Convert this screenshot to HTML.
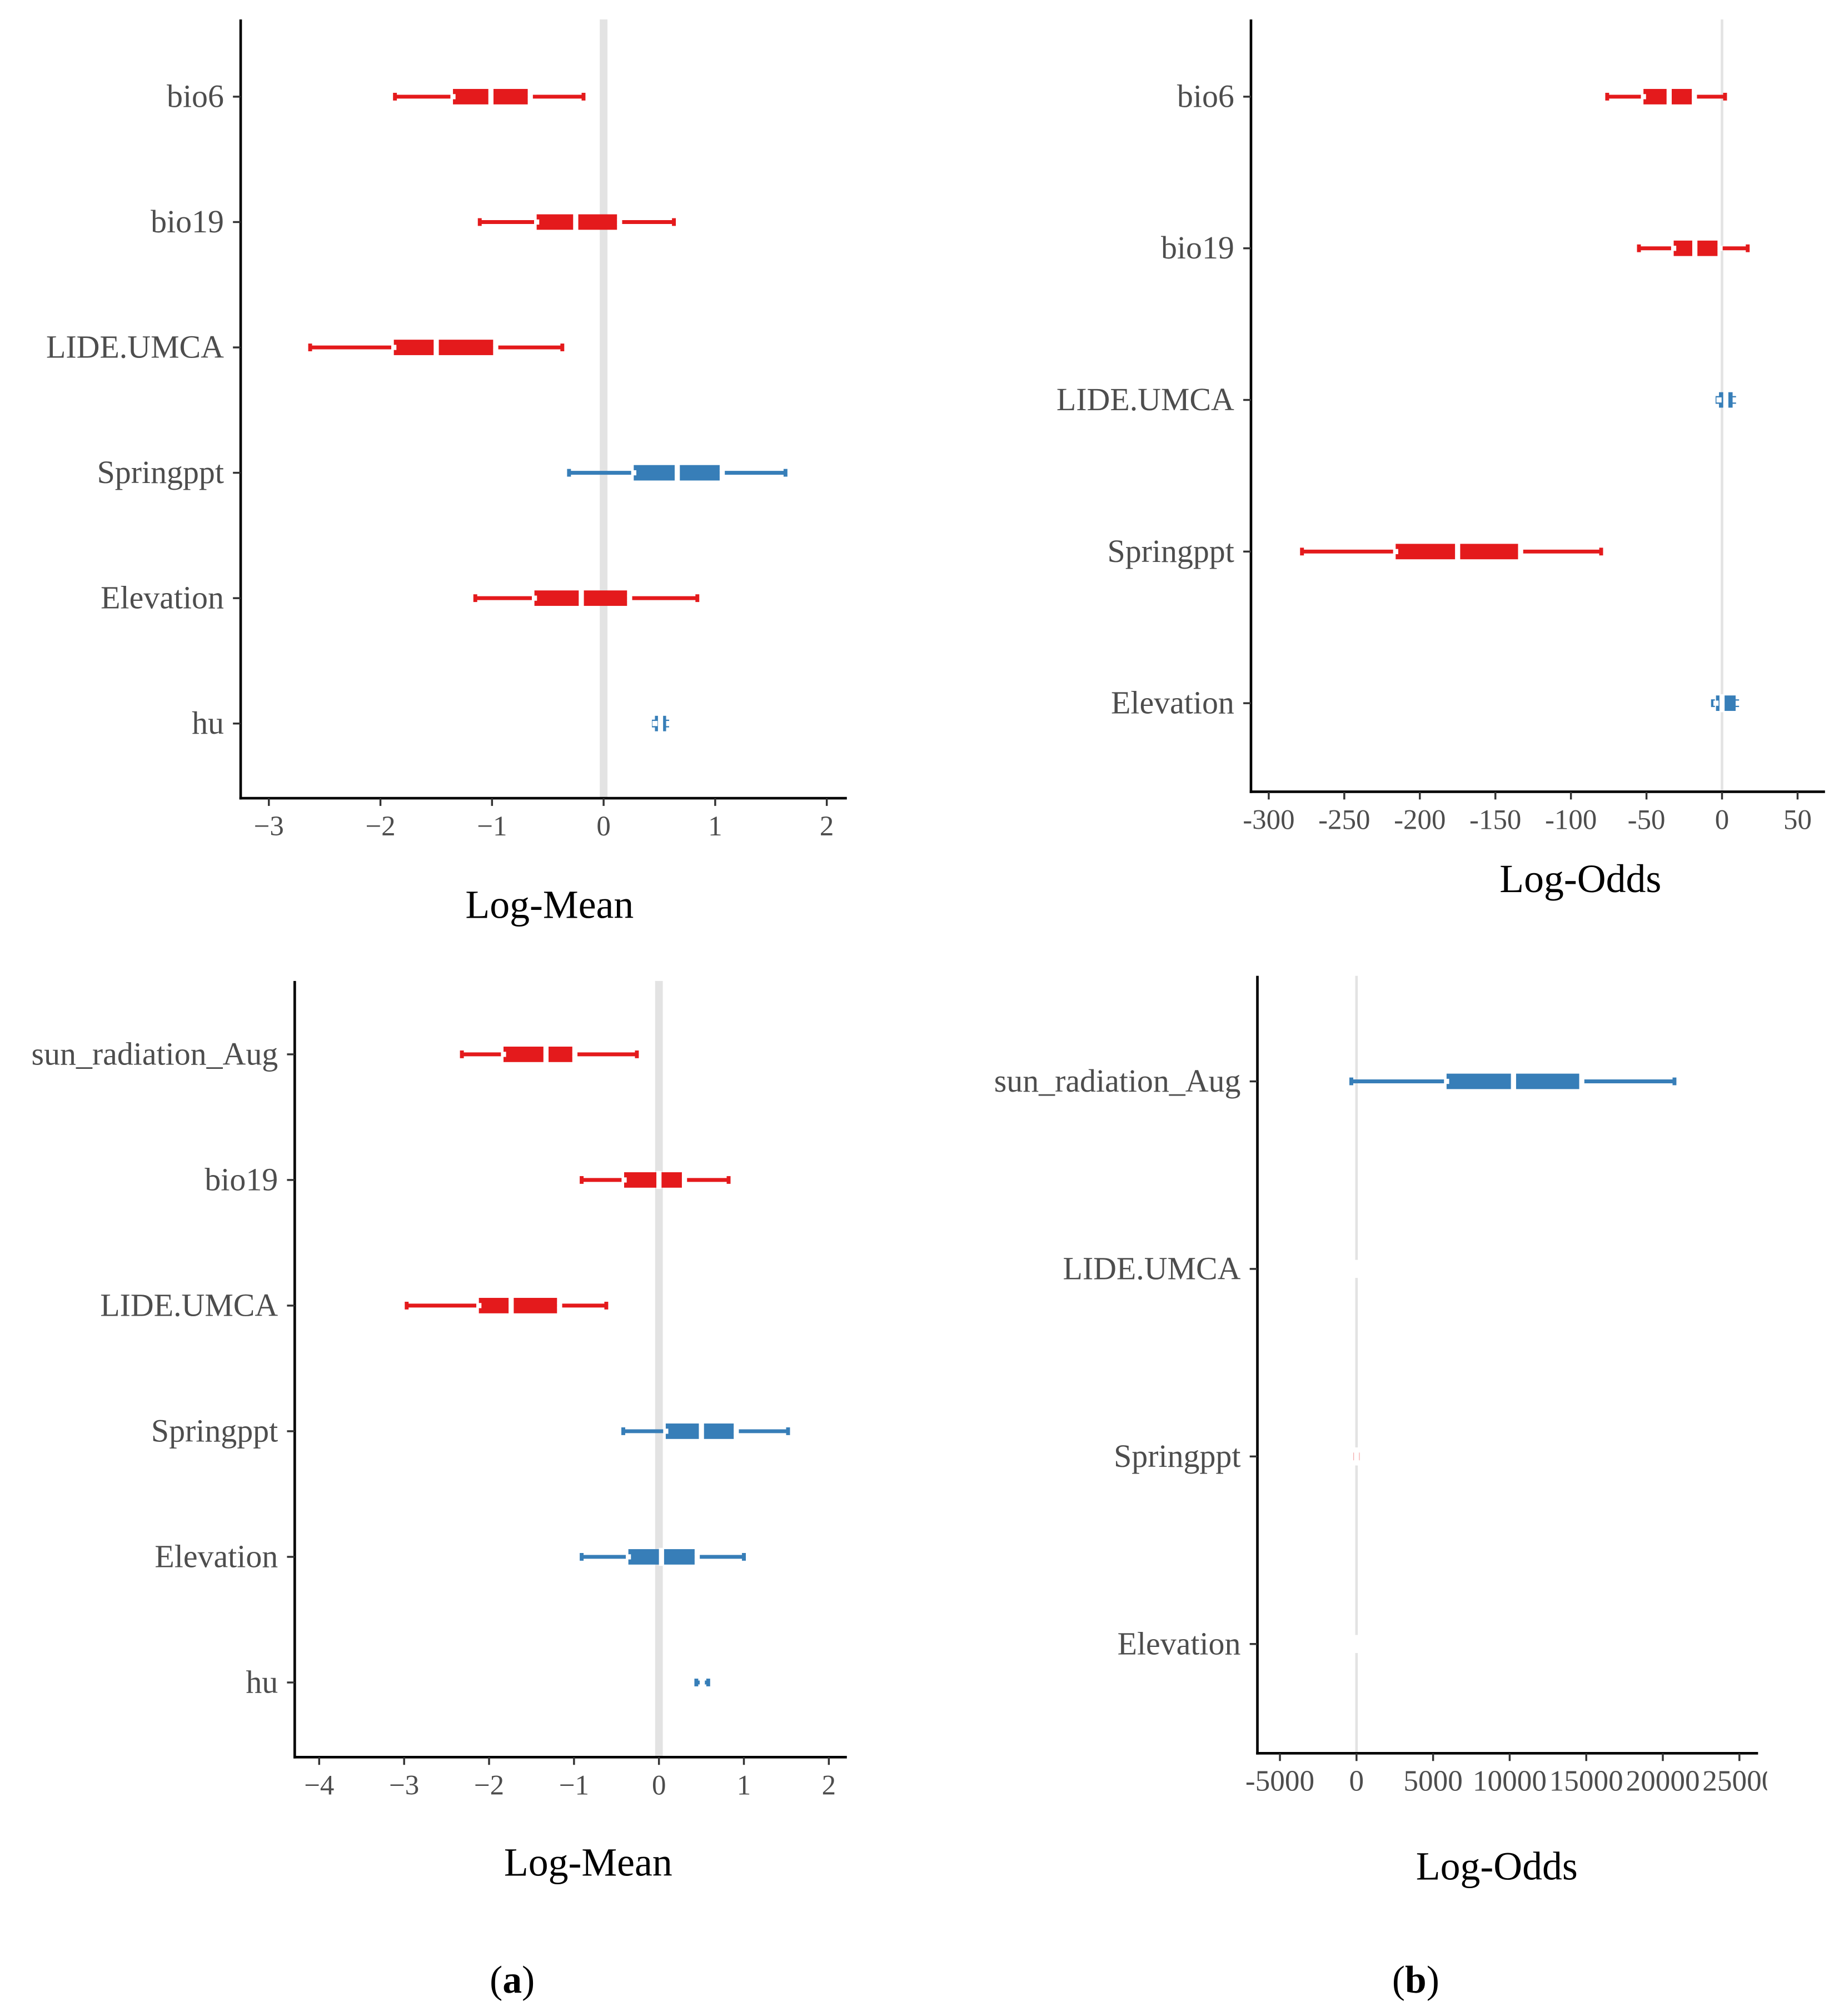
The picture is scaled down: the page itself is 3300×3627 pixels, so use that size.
<!DOCTYPE html>
<html><head><meta charset="utf-8"><style>
html,body{margin:0;padding:0;background:#fff;}
svg{display:block;font-family:"Liberation Serif",serif;}
</style></head><body>
<svg id="fig" width="3300" height="3627" viewBox="0 0 1425 1566" xmlns="http://www.w3.org/2000/svg">
<rect width="1425" height="1566" fill="#fff"/>
<defs><clipPath id="clip4"><rect x="700" y="700" width="673" height="800"/></clipPath></defs>
<text x="398" y="1548" font-size="30" text-anchor="middle">(<tspan font-weight="bold">a</tspan>)</text>
<text x="1100" y="1548" font-size="30" text-anchor="middle">(<tspan font-weight="bold">b</tspan>)</text>
</svg>
<script>
// Panel 1: top-left, Log-Mean
const p1Cats = ["bio6","bio19","LIDE.UMCA","Springppt","Elevation","hu"];
const p1Lo   = [-1.87,-1.11,-2.63,-0.31,-1.15,0.45];
const p1Q1   = [-1.35,-0.60,-1.88,0.27,-0.62,0.46];
const p1Mid  = [-1.01,-0.25,-1.50,0.66,-0.20,0.51];
const p1Q3   = [-0.68,0.12,-0.99,1.04,0.21,0.56];
const p1Hi   = [-0.18,0.63,-0.37,1.63,0.84,0.57];
const p1Col  = ["r","r","r","b","r","b"];
const p1Ticks = [-3,-2,-1,0,1,2];
const p1TickLabels = ["\u22123","\u22122","\u22121","0","1","2"];
// Panel 2: top-right, Log-Odds
const p2Cats = ["bio6","bio19","LIDE.UMCA","Springppt","Elevation"];
const p2Lo   = [-76,-55,-3,-278,-6];
const p2Q1   = [-52,-32,-2,-216,-4];
const p2Mid  = [-35,-18,2.5,-175,0];
const p2Q3   = [-20,-3,7,-135,9];
const p2Hi   = [2,17,8,-80,10];
const p2Col  = ["r","r","b","r","b"];
const p2Ticks = [-300,-250,-200,-150,-100,-50,0,50];
const p2TickLabels = ["-300","-250","-200","-150","-100","-50","0","50"];
// Panel 3: bottom-left, Log-Mean
const p3Cats = ["sun_radiation_Aug","bio19","LIDE.UMCA","Springppt","Elevation","hu"];
const p3Lo   = [-2.32,-0.91,-2.97,-0.42,-0.91,0.44];
const p3Q1   = [-1.83,-0.41,-2.12,0.08,-0.36,0.45];
const p3Mid  = [-1.33,0.0,-1.74,0.50,0.03,0.51];
const p3Q3   = [-1.02,0.27,-1.20,0.88,0.42,0.57];
const p3Hi   = [-0.26,0.82,-0.62,1.52,1.00,0.58];
const p3Col  = ["r","r","r","b","b","b"];
const p3Ticks = [-4,-3,-2,-1,0,1,2];
const p3TickLabels = ["\u22124","\u22123","\u22122","\u22121","0","1","2"];
// Panel 4: bottom-right, Log-Odds
const p4Cats = ["sun_radiation_Aug","LIDE.UMCA","Springppt","Elevation"];
const p4Lo   = [-340,-50,-80,-50];
const p4Q1   = [5880,-30,-60,-30];
const p4Mid  = [10250,0,0,0];
const p4Q3   = [14540,30,60,30];
const p4Hi   = [20760,50,80,50];
const p4Col  = ["b","w","p","w"];
const p4Ticks = [-5000,0,5000,10000,15000,20000,25000];
const p4TickLabels = ["-5000","0","5000","10000","15000","20000","25000"];

const NS="http://www.w3.org/2000/svg";
const svg=document.getElementById('fig');
const COLORS={r:"#e41a1c",b:"#377eb8",w:"#ffffff",p:"#f29a9a"};
function mk(tag,attrs,parent){const e=document.createElementNS(NS,tag);for(const k in attrs)e.setAttribute(k,attrs[k]);(parent||svg).appendChild(e);return e;}

function panel(cfg,name){
  const g=mk('g',cfg.clip?{'clip-path':'url(#clip4)'}:{});
  
  
  const sx=v=>cfg.x0+(v-cfg.v0)*cfg.ppu;
  const z=mk('rect',{x:sx(0)-cfg.zw/2,y:cfg.top,width:cfg.zw,height:cfg.axY-cfg.top,fill:"#e3e3e3"},g);
  
  
  const ay=mk('line',{x1:cfg.axX,y1:cfg.top,x2:cfg.axX,y2:cfg.axY+1,stroke:"#000","stroke-width":2},g);
  
  
  const ax=mk('line',{x1:cfg.axX-1,y1:cfg.axY,x2:cfg.axEnd,y2:cfg.axY,stroke:"#000","stroke-width":2},g);
  
  
  cfg.ticks.forEach((t,i)=>{
    const x=sx(t);
    mk('line',{x1:x,y1:cfg.axY,x2:x,y2:cfg.axY+6,stroke:"#333","stroke-width":1.5},g);
    const tl=mk('text',{x:x,y:cfg.axY+29,"font-size":cfg.tfs||22,"text-anchor":"middle",fill:"#4d4d4d"},g);
    tl.textContent=cfg.tickLabels[i];
    
    
  });
  cfg.cats.forEach((c,i)=>{
    const y=cfg.y0+i*cfg.dy;
    mk('line',{x1:cfg.axX-6,y1:y,x2:cfg.axX,y2:y,stroke:"#333","stroke-width":1.5},g);
    const cl=mk('text',{x:cfg.axX-13,y:y+8,"font-size":25,"text-anchor":"end",fill:"#4d4d4d"},g);
    cl.textContent=c;
    
    
    const col=COLORS[cfg.col[i]];
    const lo=sx(cfg.lo[i]),hi=sx(cfg.hi[i]),q1=sx(cfg.q1[i]),q3=sx(cfg.q3[i]),m=sx(cfg.mid[i]);
    const wl=mk('line',{x1:lo,y1:y,x2:hi,y2:y,stroke:col,"stroke-width":3},g);
    
    
    mk('line',{x1:lo,y1:y-3,x2:lo,y2:y+3,stroke:col,"stroke-width":3},g);
    mk('line',{x1:hi,y1:y-3,x2:hi,y2:y+3,stroke:col,"stroke-width":3},g);
    if(Math.abs(q3-q1)>8){
      const bx=mk('rect',{x:Math.min(q1,q3),y:y-6,width:Math.abs(q3-q1),height:12,fill:col},g);
      
      
      mk('rect',{x:q1-2,y:y-2,width:4,height:4,fill:"#fff"},g);
      mk('rect',{x:q3,y:y-2,width:4,height:4,fill:"#fff"},g);
    }
    mk('rect',{x:m-2,y:y-7,width:4,height:14,fill:"#fff"},g);
  });
  const at=mk('text',{x:cfg.titleX,y:cfg.titleY,"font-size":31,"text-anchor":"middle",fill:"#000"},g);
  at.textContent=cfg.title;
  
  
}

panel({cats:p1Cats,lo:p1Lo,q1:p1Q1,mid:p1Mid,q3:p1Q3,hi:p1Hi,col:p1Col,ticks:p1Ticks,tickLabels:p1TickLabels,
  x0:469,v0:0,ppu:86.7,axX:187,axY:620,axEnd:658,top:15,y0:75,dy:97.4,zw:6,title:"Log-Mean",titleX:427,titleY:713},'panel-top-left');
panel({cats:p2Cats,lo:p2Lo,q1:p2Q1,mid:p2Mid,q3:p2Q3,hi:p2Hi,col:p2Col,ticks:p2Ticks,tickLabels:p2TickLabels,
  x0:1338,v0:0,ppu:1.174,axX:972,axY:615,axEnd:1418,top:15,y0:75,dy:117.8,zw:2,title:"Log-Odds",titleX:1228,titleY:693},'panel-top-right');
panel({cats:p3Cats,lo:p3Lo,q1:p3Q1,mid:p3Mid,q3:p3Q3,hi:p3Hi,col:p3Col,ticks:p3Ticks,tickLabels:p3TickLabels,
  x0:512,v0:0,ppu:66,axX:229,axY:1365,axEnd:658,top:762,y0:819,dy:97.6,zw:6,title:"Log-Mean",titleX:457,titleY:1457},'panel-bottom-left');
panel({cats:p4Cats,lo:p4Lo,q1:p4Q1,mid:p4Mid,q3:p4Q3,hi:p4Hi,col:p4Col,ticks:p4Ticks,tickLabels:p4TickLabels,tfs:23,
  x0:1054,v0:0,ppu:0.0119,axX:977,axY:1362,axEnd:1366,top:758,y0:840,dy:145.7,zw:2,title:"Log-Odds",titleX:1163,titleY:1460,clip:true},'panel-bottom-right');
</script>
</body></html>
